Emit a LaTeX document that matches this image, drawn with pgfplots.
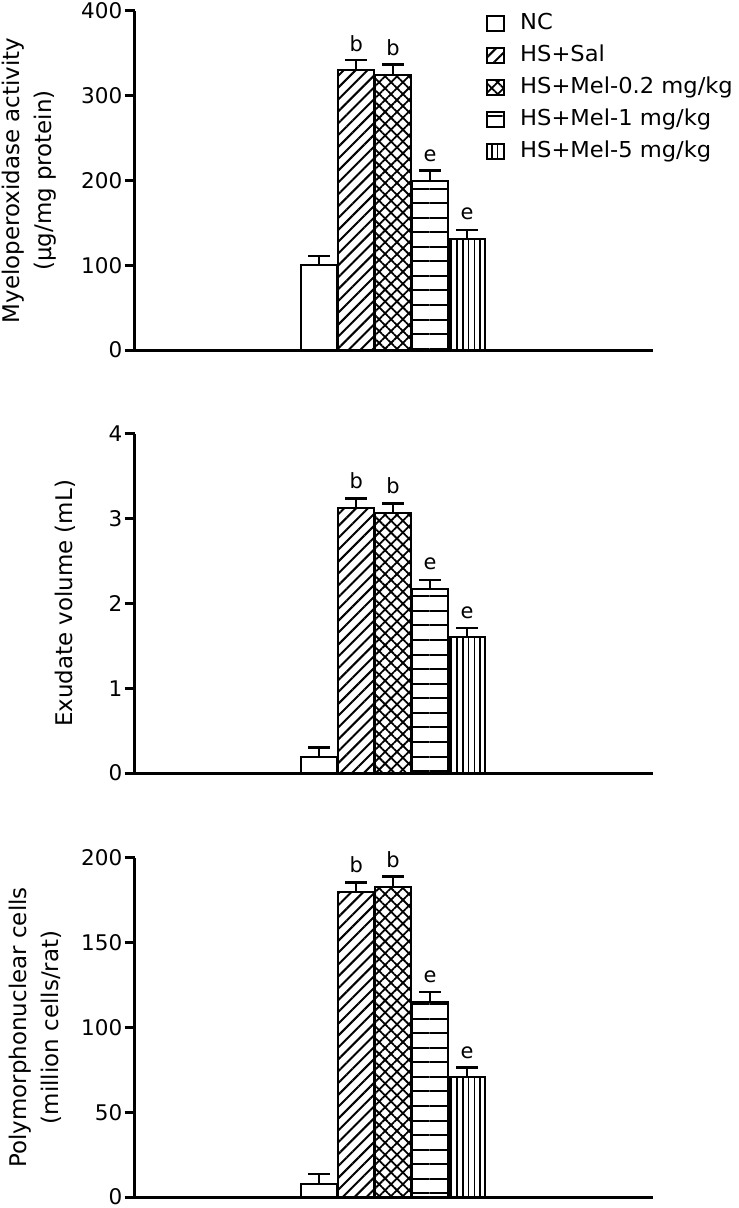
\documentclass[border=0pt]{standalone}
\usepackage{pgfplots}
\pgfplotsset{compat=1.18}
\usepackage{fontspec}
\setmainfont{DejaVu Sans}
\newfontfamily\legfont[FakeStretch=1.03]{DejaVu Sans}
\usetikzlibrary{patterns.meta}

\tikzset{
  pSal/.style={pattern={Lines[angle=45,distance=4.2pt,line width=1pt]}},
  pLow/.style={pattern={Lines[angle=45,distance=4.2pt,line width=0.9pt]},
               postaction={pattern={Lines[angle=-45,distance=4.2pt,line width=0.9pt]}}},
  pMid/.style={pattern={Lines[angle=0,distance=7.3pt,line width=1pt]}},
  pHigh/.style={pattern={Lines[angle=90,distance=2.9pt,line width=0.8pt]}},
}

\pgfplotsset{
  panel/.style={
    scale only axis, width=260pt, height=170pt,
    xmin=-5, xmax=9.05, ymin=0,
    axis x line=bottom, axis y line=left,
    axis line style={-, line width=1.5pt},
    xtick=\empty,
    tick align=outside, major tick length=5pt,
    ytick style={line width=1.5pt, black},
    y tick label style={font=\fontsize{10.8pt}{12pt}\selectfont, inner sep=0pt, xshift=-1pt},
    ybar, bar width=0.97, bar shift=0pt,
    every axis plot/.append style={draw=black, line width=1pt},
    error bars/y dir=plus, error bars/y explicit,
    error bars/error bar style={line width=1pt},
    error bars/error mark options={rotate=90, mark size=5.5pt, line width=1.2pt},
    nodes near coords style={anchor=south, inner sep=0pt, yshift=9pt,
      font=\fontsize{10.5pt}{12pt}\selectfont},
    ylabel style={anchor=north, inner sep=0pt, align=center,
      font=\fontsize{11.5pt}{16pt}\selectfont},
    clip=false,
  },
}

\begin{document}
\begin{tikzpicture}
\useasboundingbox (-67.5pt,-430pt) rectangle (302.5pt,175.5pt);

% Panel 1
\begin{axis}[panel, at={(0pt,0pt)},
  ymax=400, ytick={0,100,200,300,400},
  yticklabels={0,100,200,300,400},
  ylabel={Myeloperoxidase activity\\(µg/mg protein)},
  ylabel style={at={(axis description cs:-0.2558,0.5)}},
  legend image code/.code={\draw[#1, line width=1pt] (0pt,-3.75pt) rectangle (8.5pt,3.75pt);},
  legend style={at={(axis description cs:0.677,1.0)}, anchor=north west,
    draw=none, fill=none, inner sep=0pt, row sep=4pt,
    font=\legfont\fontsize{11pt}{12pt}\selectfont,
    nodes={inner sep=0pt, text height=9pt, text depth=3pt}},
  legend cell align=left,
]
\addplot[fill=white] coordinates {(0,100) +- (0,11)};
\addplot[pSal, nodes near coords={b}] coordinates {(1,330) +- (0,12)};
\addplot[pLow, nodes near coords={b}] coordinates {(2,325) +- (0,12)};
\addplot[pMid, nodes near coords={e}] coordinates {(3,200) +- (0,12)};
\addplot[pHigh, nodes near coords={e}] coordinates {(4,131) +- (0,11)};
\legend{\hspace*{7.5pt}NC, \hspace*{7.5pt}HS+Sal, \hspace*{7.5pt}HS+Mel-0.2 mg/kg,
  \hspace*{7.5pt}HS+Mel-1 mg/kg, \hspace*{7.5pt}HS+Mel-5 mg/kg}
\end{axis}

% Panel 2
\begin{axis}[panel, at={(0pt,-212pt)},
  ymax=4, ytick={0,1,2,3,4},
  yticklabels={0,1,2,3,4},
  ylabel={Exudate volume (mL)},
  ylabel style={at={(axis description cs:-0.1538,0.5)}},
]
\addplot[fill=white] coordinates {(0,0.19) +- (0,0.11)};
\addplot[pSal, nodes near coords={b}] coordinates {(1,3.13) +- (0,0.11)};
\addplot[pLow, nodes near coords={b}] coordinates {(2,3.07) +- (0,0.11)};
\addplot[pMid, nodes near coords={e}] coordinates {(3,2.17) +- (0,0.11)};
\addplot[pHigh, nodes near coords={e}] coordinates {(4,1.60) +- (0,0.11)};
\end{axis}

% Panel 3
\begin{axis}[panel, at={(0pt,-424.5pt)},
  ymax=200, ytick={0,50,100,150,200},
  yticklabels={0,50,100,150,200},
  ylabel={Polymorphonuclear cells\\(million cells/rat)},
  ylabel style={at={(axis description cs:-0.2423,0.5)}},
]
\addplot[fill=white] coordinates {(0,7.5) +- (0,6)};
\addplot[pSal, nodes near coords={b}] coordinates {(1,180) +- (0,5.5)};
\addplot[pLow, nodes near coords={b}] coordinates {(2,183) +- (0,6)};
\addplot[pMid, nodes near coords={e}] coordinates {(3,115) +- (0,6)};
\addplot[pHigh, nodes near coords={e}] coordinates {(4,70.5) +- (0,6)};
\end{axis}
\end{tikzpicture}
\end{document}
